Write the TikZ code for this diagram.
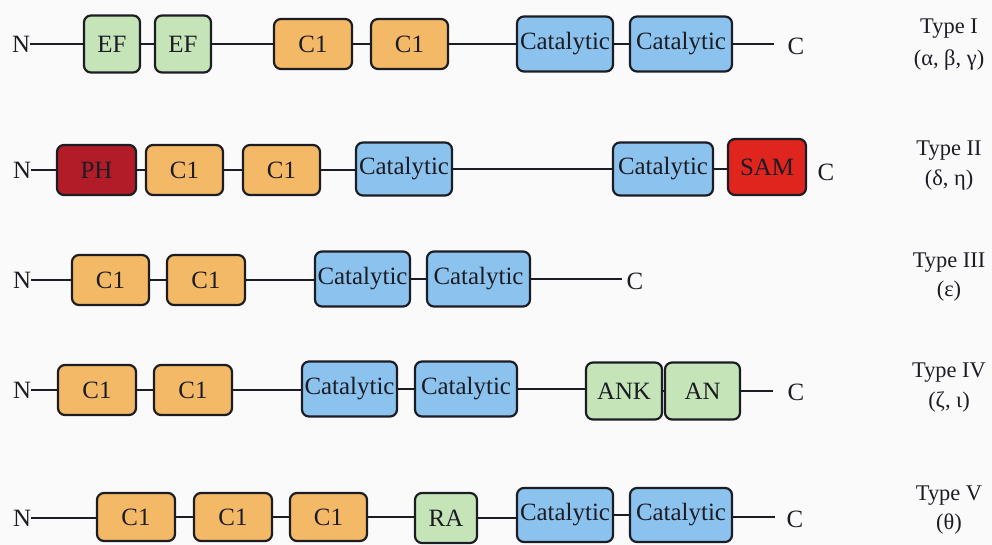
\documentclass[tikz,border=0pt]{standalone}
\usepackage{fontspec}
\setmainfont{Liberation Serif}
\definecolor{efgreen}{RGB}{197,229,184}
\definecolor{c1orange}{RGB}{243,185,102}
\definecolor{catblue}{RGB}{140,195,238}
\definecolor{phred}{RGB}{178,28,40}
\definecolor{samred}{RGB}{224,36,30}
\definecolor{ink}{RGB}{28,28,36}
\begin{document}
\begin{tikzpicture}[x=1bp,y=-1bp,
  dom/.style={draw=ink, line width=2.2bp, rounded corners=7bp, inner sep=0pt,
    font=\fontsize{25}{27}\selectfont, text=ink},
  efbox/.style={dom, fill=efgreen},
  cbox/.style={dom, fill=c1orange},
  catbox/.style={dom, fill=catblue},
  phbox/.style={dom, fill=phred},
  sambox/.style={dom, fill=samred},
  term/.style={inner sep=0pt, font=\fontsize{25}{27}\selectfont, text=ink},
  lab/.style={inner sep=0pt, font=\fontsize{22.5}{25}\selectfont, text=ink},
  bb/.style={draw=ink, line width=2bp}
]
\fill[white!98!black] (0,0) rectangle (992,545);
\useasboundingbox (0,0) rectangle (992,545);

% ---------- Row 1 ----------
\node[term] (n1) at (21,44) {N};
\node[efbox, minimum width=56bp, minimum height=57bp] (a1) at (112,44) {EF};
\node[efbox, minimum width=56bp, minimum height=57bp] (a2) at (183,44) {EF};
\node[cbox, minimum width=78bp, minimum height=50bp] (a3) at (313,44) {C1};
\node[cbox, minimum width=77bp, minimum height=50bp] (a4) at (409.5,44) {C1};
\node[catbox, minimum width=96bp, minimum height=55bp] (a5) at (565,44) {Catalytic};
\node[catbox, minimum width=102bp, minimum height=55bp] (a6) at (681,44) {Catalytic};
\coordinate (e1) at (774,44);
\node[term] (c1) at (796,46) {C};
\draw[bb] (n1) -- (a1) (a1) -- (a2) (a2) -- (a3) (a3) -- (a4) (a4) -- (a5) (a5) -- (a6) (a6) -- (e1);
\node[lab] (t1) at (949,29) {Type I};
\node[lab] (g1) at (949,60) {(α, β, γ)};

% ---------- Row 2 ----------
\node[term] (n2) at (22,170) {N};
\node[phbox, minimum width=79bp, minimum height=50bp] (b1) at (96.5,170) {PH};
\node[cbox, minimum width=77bp, minimum height=50bp] (b2) at (184.5,170) {C1};
\node[cbox, minimum width=77bp, minimum height=50bp] (b3) at (281.5,170) {C1};
\node[catbox, minimum width=96bp, minimum height=53bp] (b4) at (404,169) {Catalytic};
\node[catbox, minimum width=100bp, minimum height=53bp] (b5) at (663,169) {Catalytic};
\node[sambox, minimum width=78bp, minimum height=56bp] (b6) at (767,167) {SAM};
\node[term] (c2) at (826,172) {C};
\draw[bb] (n2) -- (b1) (b1) -- (b2) (b2) -- (b3) (b3) -- (b3 -| b4.west) (b4) -- (b5) (b5) -- (b5 -| b6.west);
\node[lab] (t2) at (949,151) {Type II};
\node[lab] (g2) at (949,180) {(δ, η)};

% ---------- Row 3 ----------
\node[term] (n3) at (22,280) {N};
\node[cbox, minimum width=77bp, minimum height=50bp] (d1) at (110.5,280) {C1};
\node[cbox, minimum width=78bp, minimum height=50bp] (d2) at (206,280) {C1};
\node[catbox, minimum width=95bp, minimum height=55bp] (d3) at (362.5,279) {Catalytic};
\node[catbox, minimum width=103bp, minimum height=55bp] (d4) at (478.5,279) {Catalytic};
\coordinate (e3) at (622,279);
\node[term] (c3) at (635,281) {C};
\draw[bb] (n3) -- (d1) (d1) -- (d2) (d2) -- (d2 -| d3.west) (d3) -- (d4) (d4) -- (e3);
\node[lab] (t3) at (949,263) {Type III};
\node[lab] (g3) at (949,291) {(ε)};

% ---------- Row 4 ----------
\node[term] (n4) at (22,390) {N};
\node[cbox, minimum width=78bp, minimum height=50bp] (f1) at (97,390) {C1};
\node[cbox, minimum width=78bp, minimum height=50bp] (f2) at (193,390) {C1};
\node[catbox, minimum width=95bp, minimum height=55bp] (f3) at (349.5,389) {Catalytic};
\node[catbox, minimum width=102bp, minimum height=55bp] (f4) at (466,389) {Catalytic};
\node[efbox, minimum width=76bp, minimum height=57bp] (f5) at (624,391) {ANK};
\node[efbox, minimum width=75bp, minimum height=57bp] (f6) at (702.5,391) {AN};
\coordinate (e4) at (773,391);
\node[term] (c4) at (796,392) {C};
\draw[bb] (n4) -- (f1) (f1) -- (f2) (f2) -- (f2 -| f3.west) (f3) -- (f4) (f4) -- (f4 -| f5.west) (f5) -- (f6) (f6) -- (e4);
\node[lab] (t4) at (949,373) {Type IV};
\node[lab] (g4) at (949,402) {(ζ, ι)};

% ---------- Row 5 ----------
\node[term] (n5) at (22,518) {N};
\node[cbox, minimum width=78bp, minimum height=48bp] (h1) at (136,517) {C1};
\node[cbox, minimum width=78bp, minimum height=48bp] (h2) at (233,517) {C1};
\node[cbox, minimum width=77bp, minimum height=48bp] (h3) at (328.5,517) {C1};
\node[efbox, minimum width=62bp, minimum height=50bp] (h4) at (446,518) {RA};
\node[catbox, minimum width=96bp, minimum height=54bp] (h5) at (565,515) {Catalytic};
\node[catbox, minimum width=102bp, minimum height=54bp] (h6) at (681,515) {Catalytic};
\coordinate (e5) at (775,517);
\node[term] (c5) at (795,519) {C};
\draw[bb] (n5) -- (n5 -| h1.west) (h1) -- (h2) (h2) -- (h3) (h3) -- (h3 -| h4.west) (h4) -- (h4 -| h5.west) (h5) -- (h6) (h6.east |- e5) -- (e5);
\node[lab] (t5) at (949,496) {Type V};
\node[lab] (g5) at (949,524) {(θ)};
\end{tikzpicture}
\end{document}
